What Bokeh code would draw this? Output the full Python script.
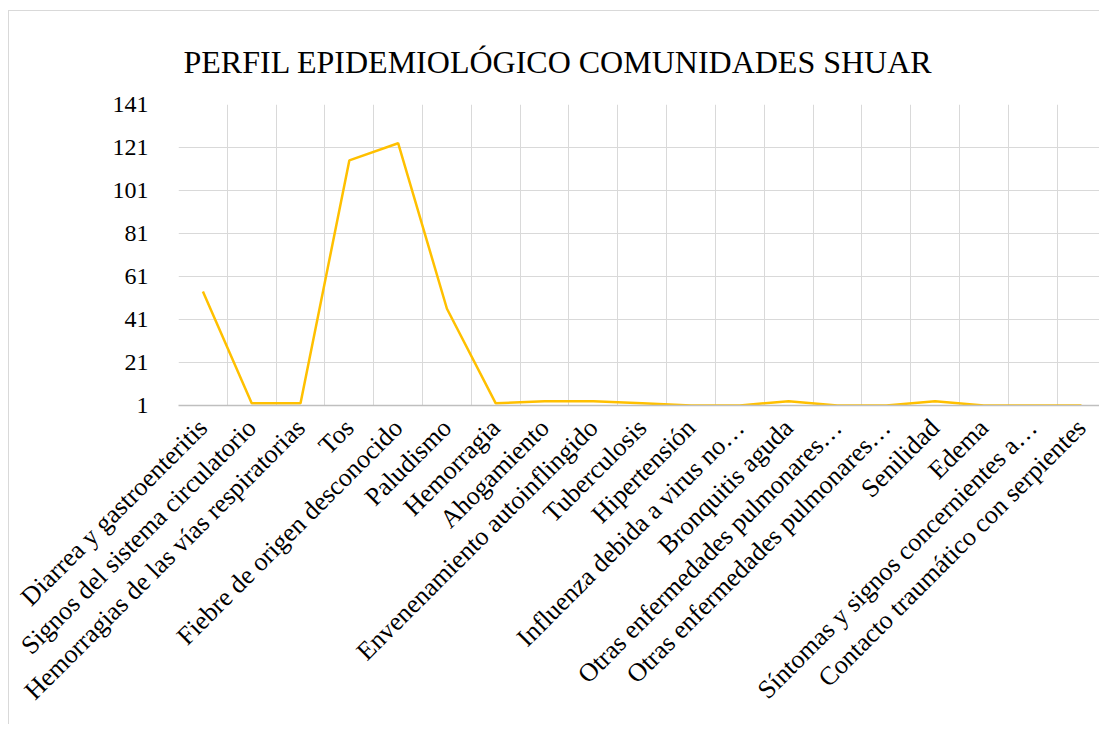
import math
from bokeh.plotting import figure
from bokeh.models import Range1d, FixedTicker
from bokeh.embed import file_html
from bokeh.resources import INLINE

title_text = "PERFIL EPIDEMIOLÓGICO  COMUNIDADES SHUAR"

categories = [
    "Diarrea y gastroenteritis",
    "Signos del sistema circulatorio",
    "Hemorragias de las vías respiratorias",
    "Tos",
    "Fiebre de origen desconocido",
    "Paludismo",
    "Hemorragia",
    "Ahogamiento",
    "Envenenamiento autoinflingido",
    "Tuberculosis",
    "Hipertensión",
    "Influenza debida a virus no…",
    "Bronquitis aguda",
    "Otras enfermedades pulmonares…",
    "Otras enfermedades pulmonares…",
    "Senilidad",
    "Edema",
    "Síntomas y signos concernientes a…",
    "Contacto traumático con serpientes",
]

values = [54, 2, 2, 115, 123, 46, 2, 3, 3, 2, 1, 1, 3, 1, 1, 3, 1, 1, 1]

y_ticks = [1, 21, 41, 61, 81, 101, 121, 141]

FONT = "Liberation Serif"

xs = list(range(1, len(categories) + 1))

p = figure(
    width=1091,
    height=714,
    output_backend="svg",
    toolbar_location=None,
    x_range=Range1d(0.5, 19.39),
    y_range=Range1d(1, 141),
    min_border_left=169,
    min_border_right=0,
    min_border_top=93,
    min_border_bottom=320,
    title=title_text,
)
p.margin = (10, 0, 0, 8)
p.styles = {"border-left": "1px solid #d9d9d9", "border-top": "1px solid #d9d9d9"}

p.title.text_font = FONT
p.title.text_font_size = "32px"
p.title.text_font_style = "normal"
p.title.text_color = "#000000"
p.title.align = "left"
p.title.offset = 5
p.title.standoff = 45
p.title.vertical_align = "top"

p.outline_line_color = None
p.background_fill_color = "white"
p.border_fill_color = "white"

p.line(xs, values, line_color="#FFC000", line_width=2.5)

# x axis
p.xaxis.ticker = FixedTicker(ticks=xs)
p.xaxis.major_label_overrides = {x: c for x, c in zip(xs, categories)}
p.xaxis.major_label_orientation = math.pi / 4
p.xaxis.major_label_text_font = FONT
p.xaxis.major_label_text_font_size = "26px"
p.xaxis.major_label_text_color = "#000000"
p.xaxis.major_tick_line_color = None
p.xaxis.minor_tick_line_color = None
p.xaxis.axis_line_color = "#bfbfbf"
p.xaxis.axis_line_width = 1.5
p.xaxis.major_label_standoff = 12

# y axis
p.yaxis.ticker = FixedTicker(ticks=y_ticks)
p.yaxis.major_label_text_font = FONT
p.yaxis.major_label_text_font_size = "24px"
p.yaxis.major_label_text_color = "#000000"
p.yaxis.major_tick_line_color = None
p.yaxis.minor_tick_line_color = None
p.yaxis.axis_line_color = None
p.yaxis.major_label_standoff = 24

# grids
p.xgrid.ticker = FixedTicker(ticks=[x + 0.5 for x in range(0, len(categories))])
p.xgrid.grid_line_color = "#d9d9d9"
p.xgrid.grid_line_width = 1
p.ygrid.ticker = FixedTicker(ticks=y_ticks)
p.ygrid.grid_line_color = "#d9d9d9"
p.ygrid.grid_line_width = 1

open("out.html", "w").write(file_html(p, INLINE))
